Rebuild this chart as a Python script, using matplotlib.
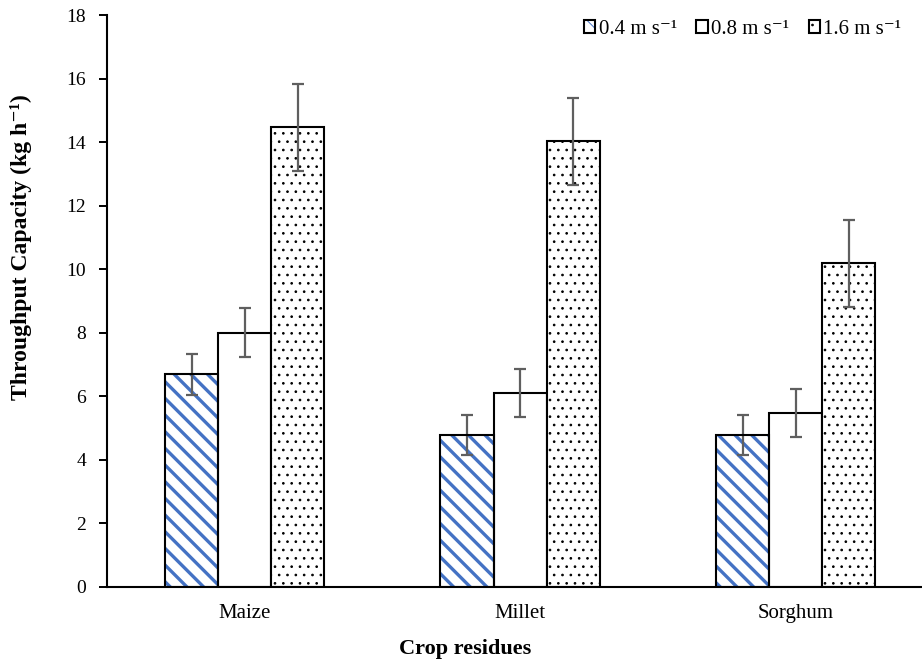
import numpy as np
import matplotlib
matplotlib.use('Agg')
import matplotlib.pyplot as plt

plt.rcParams['font.family'] = ['Liberation Serif', 'DejaVu Serif']
plt.rcParams['hatch.linewidth'] = 2.4

crops = ['Maize', 'Millet', 'Sorghum']
speeds = ['0.4 m s\u207b\u00b9', '0.8 m s\u207b\u00b9', '1.6 m s\u207b\u00b9']
v04 = [6.69, 4.78, 4.78]
v08 = [8.01, 6.11, 5.47]
v16 = [14.47, 14.04, 10.19]
e04 = [0.63, 0.63, 0.63]
e08 = [0.76, 0.76, 0.76]
e16 = [1.36, 1.37, 1.37]

fig = plt.figure(figsize=(9.22, 6.64), dpi=100)
ax = fig.add_axes([0.116, 0.116, 0.8964, 0.861])

x = np.arange(len(crops))
w = 0.193
errkw = dict(ecolor='#5f5f5f', elinewidth=1.6, capsize=4.3, capthick=1.6)

# blue hatch first, then a black outline over it
b1 = ax.bar(x - w, v04, w, yerr=e04, color='white', edgecolor='#4472C4',
            linewidth=0, hatch='\\\\', error_kw=errkw, zorder=2)
o1 = ax.bar(x - w, v04, w, fill=False, edgecolor='black', linewidth=1.5, zorder=3)

b2 = ax.bar(x, v08, w, yerr=e08, color='white', edgecolor='black',
            linewidth=1.5, error_kw=errkw, zorder=2)

plt.rcParams['hatch.linewidth'] = 0.7
b3 = ax.bar(x + w, v16, w, yerr=e16, color='white', edgecolor='black',
            linewidth=1.5, hatch='..', error_kw=errkw, zorder=2)

ax.set_xlim(-0.5, 2.5)
ax.set_ylim(0, 18)
ax.set_yticks(range(0, 19, 2))
ax.set_xticks(x)
ax.set_xticklabels(crops, fontsize=15)
ax.tick_params(axis='y', labelsize=14, length=6, width=1.4, direction='out', pad=9)
ax.tick_params(axis='x', length=0, pad=12)
for s in ['top', 'right']:
    ax.spines[s].set_visible(False)
for s in ['left', 'bottom']:
    ax.spines[s].set_linewidth(1.5)

ax.set_ylabel('Throughput Capacity (kg h\u207b\u00b9)', fontsize=17, fontweight='bold')
ax.set_xlabel('Crop residues', fontsize=16, fontweight='bold')
ax.yaxis.set_label_coords(-0.091, 0.594)
ax.xaxis.set_label_coords(0.433, -0.091)

fig.legend(handles=[(b1[0], o1[0]), b2[0], b3[0]], labels=speeds, loc='upper right',
           bbox_to_anchor=(0.998, 0.998), ncol=3, frameon=False, fontsize=15,
           handlelength=0.55, handleheight=0.55, handletextpad=0.15, columnspacing=0.95)

fig.savefig('out.png', dpi=100)
